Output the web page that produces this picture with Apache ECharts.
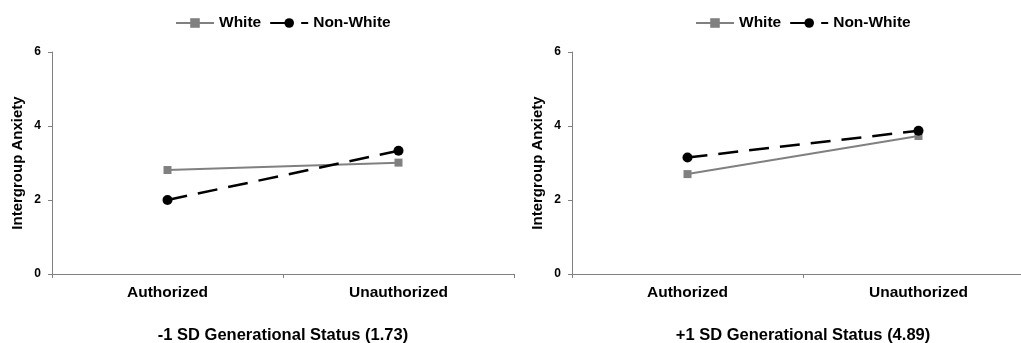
<!DOCTYPE html>
<html>
<head>
<meta charset="utf-8">
<script src="https://cdn.jsdelivr.net/npm/echarts@6/dist/echarts.min.js"></script>
<style>
html,body{margin:0;padding:0;background:#fff;}
#chart{width:1021px;height:343px;}
</style>
</head>
<body>
<div id="chart"></div>
<script>
const categories = ['Authorized', 'Unauthorized'];
const seriesNames = ['White', 'Non-White'];
const panelTitles = ['-1 SD Generational Status (1.73)', '+1 SD Generational Status (4.89)'];
const yAxisTitle = 'Intergroup Anxiety';
const yTicks = { min: 0, max: 6, interval: 2 };
// panel 1 (-1 SD)
const whiteLow = [2.81, 3.01];
const nonWhiteLow = [2.00, 3.33];
// panel 2 (+1 SD)
const whiteHigh = [2.70, 3.73];
const nonWhiteHigh = [3.15, 3.87];

const FONT = '"Liberation Sans", Arial, sans-serif';
const AXIS_COLOR = '#808080';
const panels = [
  { left: 52, white: whiteLow, nonWhite: nonWhiteLow, title: panelTitles[0], legendLeft: 170 },
  { left: 572, white: whiteHigh, nonWhite: nonWhiteHigh, title: panelTitles[1], legendLeft: 690 }
];

const grids = [], xAxes = [], yAxes = [], series = [], legends = [];
panels.forEach((p, i) => {
  grids.push({ left: p.left, top: 52, width: 462, height: 222, containLabel: false, outerBoundsMode: 'none' });
  xAxes.push({
    type: 'category', gridIndex: i, data: categories, boundaryGap: true,
    axisLine: { show: true, lineStyle: { color: AXIS_COLOR, width: 1 } },
    axisTick: { show: true, length: 4, lineStyle: { color: AXIS_COLOR } },
    axisLabel: { color: '#000', fontFamily: FONT, fontWeight: 'bold', fontSize: 15.5, margin: 11 },
    splitLine: { show: false },
    name: p.title, nameLocation: 'middle', nameGap: 53,
    nameTextStyle: { color: '#000', fontFamily: FONT, fontWeight: 'bold', fontSize: 16.5 }
  });
  yAxes.push({
    type: 'value', gridIndex: i, min: yTicks.min, max: yTicks.max, interval: yTicks.interval,
    axisLine: { show: true, lineStyle: { color: AXIS_COLOR, width: 1 } },
    axisTick: { show: true, length: 4, lineStyle: { color: AXIS_COLOR } },
    axisLabel: { color: '#000', fontFamily: FONT, fontWeight: 'bold', fontSize: 12, margin: 11 },
    splitLine: { show: false },
    name: yAxisTitle, nameLocation: 'middle', nameGap: 27, nameRotate: 90,
    nameTextStyle: { color: '#000', fontFamily: FONT, fontWeight: 'bold', fontSize: 15 }
  });
  series.push({
    name: seriesNames[0], type: 'line', xAxisIndex: i, yAxisIndex: i, data: p.white,
    symbol: 'rect', symbolSize: 8, color: '#808080',
    lineStyle: { color: '#808080', width: 2 }, itemStyle: { color: '#808080' },
    animation: false
  });
  series.push({
    name: seriesNames[1], type: 'line', xAxisIndex: i, yAxisIndex: i, data: p.nonWhite,
    symbol: 'circle', symbolSize: 10, color: '#000',
    lineStyle: { color: '#000', width: 2.5, type: [20, 11] }, itemStyle: { color: '#000' },
    animation: false
  });
  legends.push({
    left: p.legendLeft, top: 10, itemWidth: 38, itemHeight: 12, itemGap: 8,
    data: seriesNames, selectedMode: false,
    textStyle: { color: '#000', fontFamily: FONT, fontWeight: 'bold', fontSize: 15.5 }
  });
});

const chart = echarts.init(document.getElementById('chart'), null, { renderer: 'canvas' });
chart.setOption({
  animation: false,
  backgroundColor: '#fff',
  grid: grids, xAxis: xAxes, yAxis: yAxes, series: series, legend: legends
});
</script>
</body>
</html>
